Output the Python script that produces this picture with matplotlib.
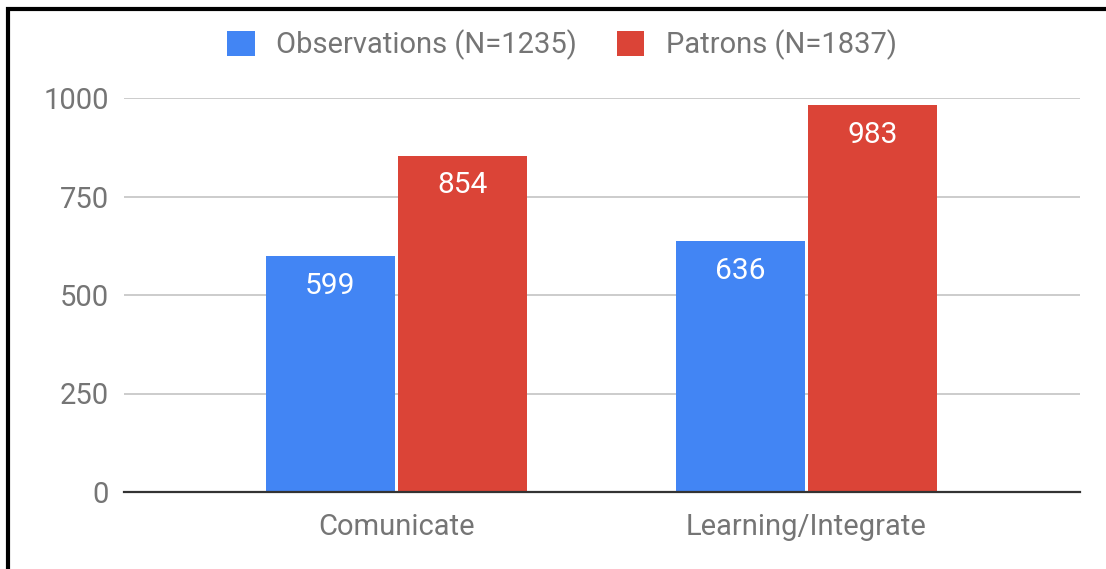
import matplotlib.pyplot as plt
import numpy as np
from matplotlib.lines import Line2D

# Chart data
categories = ["Comunicate", "Learning/Integrate"]
observations = [599, 636]
patrons = [854, 983]
series_labels = ["Observations (N=1235)", "Patrons (N=1837)"]
yticks = [0, 250, 500, 750, 1000]

blue = "#4285F4"
red = "#DB4437"
grey_text = "#757575"

plt.rcParams["font.family"] = ["Roboto", "DejaVu Sans"]

fig = plt.figure(figsize=(11.06, 5.69), dpi=100)
ax = fig.add_axes([124 / 1106, 1 - 492 / 569, 956 / 1106, (492 - 98) / 569])

x = np.arange(len(categories))
width = 0.315
gap = 0.004
b1 = ax.bar(x - width / 2 - gap, observations, width, color=blue, label=series_labels[0], zorder=3)
b2 = ax.bar(x + width / 2 + gap, patrons, width, color=red, label=series_labels[1], zorder=3)

# Value labels inside the top of each bar
for bars in (b1, b2):
    for rect in bars:
        ax.annotate(str(int(rect.get_height())),
                    (rect.get_x() + rect.get_width() / 2, rect.get_height()),
                    xytext=(0, -21.5), textcoords="offset points",
                    ha="center", va="center", color="white", fontsize=21.5)

ax.set_xlim(-0.665, 1.668)
ax.set_ylim(0, 1000)
ax.set_yticks(yticks)
ax.set_xticks(x)
ax.set_xticklabels(categories)
ax.tick_params(axis="both", length=0, labelsize=21, labelcolor=grey_text)
ax.tick_params(axis="y", pad=11)
ax.tick_params(axis="x", pad=15)

ax.grid(axis="y", color="#cccccc", linewidth=1.4, zorder=0)
for side in ["top", "right", "left"]:
    ax.spines[side].set_visible(False)
ax.spines["bottom"].set_color("#333333")
ax.spines["bottom"].set_linewidth(1.6)
ax.spines["bottom"].set_zorder(4)

leg = fig.legend(loc="center", bbox_to_anchor=(562 / 1106, 1 - 45 / 569), ncol=2,
                 frameon=False, fontsize=21, handlelength=0.93, handleheight=0.93,
                 handletextpad=0.75, columnspacing=1.35)
for t in leg.get_texts():
    t.set_color(grey_text)

# Black frame on the left and top edges
fig.add_artist(Line2D([8 / 1106, 8 / 1106, 1.0], [0.0, 1 - 9 / 569, 1 - 9 / 569],
                      transform=fig.transFigure, color="black", linewidth=3,
                      solid_joinstyle="miter"))

fig.savefig("out.png", dpi=100)
